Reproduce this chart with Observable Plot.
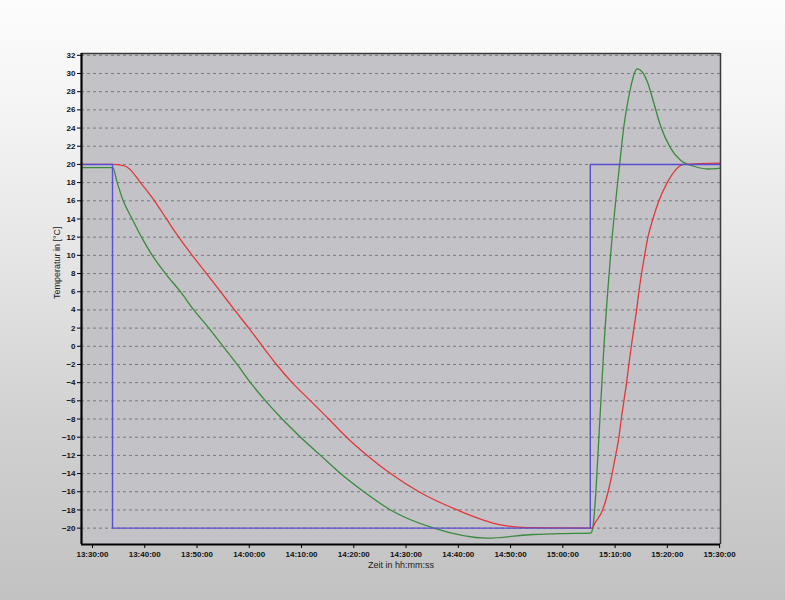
<!DOCTYPE html>
<html><head><meta charset="utf-8">
<script src="https://cdn.jsdelivr.net/npm/d3@7"></script>
<script src="https://cdn.jsdelivr.net/npm/@observablehq/plot@0.6"></script>
<style>
html,body{margin:0;padding:0;}
body{width:785px;height:600px;overflow:hidden;
background:linear-gradient(to bottom,#fcfcfc 0%,#f6f6f6 15%,#e4e4e4 45%,#d0d0d0 72%,#c2c2c2 100%);}
#chart svg{display:block;}
</style></head><body><div id="chart"></div>
<script>
// Axis extents and ticks
const xStart = "13:27:54", xEnd = "15:30:10";
const xTickLabels = ["13:30:00","13:40:00","13:50:00","14:00:00","14:10:00","14:20:00","14:30:00","14:40:00","14:50:00","15:00:00","15:10:00","15:20:00","15:30:00"];
const yTickValues = [-20,-18,-16,-14,-12,-10,-8,-6,-4,-2,0,2,4,6,8,10,12,14,16,18,20,22,24,26,28,30,32];
const yMin = -21.8, yMax = 32.2;
const xTitle = "Zeit in hh:mm:ss";
const yTitle = "Temperatur in [°C]";

// Setpoint (blue, step)
const sollTimes  = ["13:27:54","13:33:50","15:05:15","15:30:10"];
const sollValues = [20, -20, 20, 20];

// Red curve
const redTimes  = ["13:27:54","13:34:05","13:36:19","13:37:16","13:39:11","13:41:52","13:44:10","13:46:31","13:49:05","13:51:49","13:54:30","13:57:11","13:59:55","14:02:32","14:05:13","14:08:13","14:11:43","14:15:13","14:18:37","14:22:34","14:27:02","14:32:27","14:39:48","14:48:05","14:53:12","15:05:19","15:05:38","15:06:05","15:07:37","15:08:40","15:09:26","15:10:06","15:10:44","15:11:11","15:11:41","15:12:12","15:12:38","15:13:06","15:13:36","15:14:07","15:14:33","15:15:04","15:15:39","15:16:17","15:17:14","15:18:23","15:19:59","15:23:10","15:30:10"];
const redValues = [20, 20, 19.8, 19.4, 18, 16, 14, 12, 10, 8, 6, 4, 2, 0, -2, -4, -6, -8, -10, -12, -14, -16, -18, -19.64, -19.95, -20, -20, -19.5, -18, -16, -14, -12, -10, -8, -6, -4, -2, 0, 2, 4, 6, 8, 10, 12, 14, 16, 18, 20, 20.15];

// Green curve
const greenTimes  = ["13:27:54","13:33:53","13:34:44","13:35:53","13:37:36","13:39:23","13:41:26","13:43:58","13:46:50","13:49:23","13:52:16","13:54:59","13:57:41","14:00:14","14:03:07","14:06:18","14:09:49","14:13:38","14:17:28","14:21:55","14:27:02","14:35:19","14:45:32","14:54:24","14:59:34","15:05:19","15:05:41","15:06:05","15:06:54","15:07:52","15:09:08","15:10:52","15:11:41","15:12:38","15:14:15","15:16:10","15:17:26","15:18:43","15:20:37","15:22:32","15:25:05","15:27:39","15:30:10"];
const greenValues = [19.65, 19.65, 18, 16, 14, 12, 10, 8, 6, 4, 2, 0, -2, -4, -6, -8, -10, -12, -14, -16, -18, -20, -21.1, -20.7, -20.6, -20.55, -20.1, -18, -10, 0, 10, 20, 24.2, 27.5, 30.5, 29.1, 26.7, 24.2, 21.8, 20.45, 19.8, 19.5, 19.6];

const parseT = s => { const [h,m,sec] = s.split(":").map(Number); return new Date(Date.UTC(2000,0,1,h,m,sec)); };
const zip = (ts, vs) => ts.map((t,i) => ({t: parseT(t), v: vs[i]}));
const soll = zip(sollTimes, sollValues);
const red = zip(redTimes, redValues);
const green = zip(greenTimes, greenValues);
const x0 = parseT(xStart), x1 = parseT(xEnd);
const xTicks = xTickLabels.map(parseT);
const fmt = d3.utcFormat("%H:%M:%S");

const chart = Plot.plot({
  width: 785, height: 600,
  marginLeft: 81, marginRight: 65, marginTop: 53, marginBottom: 56,
  style: {background: "transparent", fontFamily: "'Liberation Sans', Arial, sans-serif", overflow: "visible"},
  x: {type: "utc", domain: [x0, x1]},
  y: {domain: [yMin, yMax]},
  marks: [
    Plot.frame({fill: "#c3c2c7", stroke: null}),
    Plot.ruleY(yTickValues, {stroke: "#7a7a7e", strokeWidth: 1, strokeDasharray: "3,3"}),
    Plot.line(green, {x: "t", y: "v", stroke: "#3a8a3e", strokeWidth: 1.3, curve: "monotone-x"}),
    Plot.line(red, {x: "t", y: "v", stroke: "#e2373b", strokeWidth: 1.3, curve: "monotone-x"}),
    Plot.line(soll, {x: "t", y: "v", stroke: "#5a4fd2", strokeWidth: 1.4, curve: "step-after"}),
    Plot.ruleY([yMax], {stroke: "#3a3a3a", strokeWidth: 1.5}),
    Plot.ruleX([x1], {stroke: "#3a3a3a", strokeWidth: 1.5}),
    Plot.ruleX([x0], {stroke: "#000", strokeWidth: 2.2}),
    Plot.ruleY([yMin], {stroke: "#000", strokeWidth: 2.2}),
    Plot.axisY({ticks: yTickValues, tickSize: 4, tickPadding: 2, fontSize: 8, fontWeight: "bold", fill: "#111", stroke: "#000", label: null}),
    Plot.axisX({ticks: xTicks, tickFormat: fmt, tickSize: 4, tickPadding: 3, fontSize: 8, fontWeight: "bold", fill: "#111", stroke: "#000", label: null}),
    Plot.text([xTitle], {frameAnchor: "bottom", dy: 21, text: d => d, fontSize: 9, fill: "#222", lineAnchor: "middle"}),
    Plot.text([yTitle], {frameAnchor: "left", dx: -24, rotate: -90, text: d => d, fontSize: 9, fill: "#222", lineAnchor: "middle"})
  ]
});
document.getElementById("chart").appendChild(chart);
</script>
</body></html>
